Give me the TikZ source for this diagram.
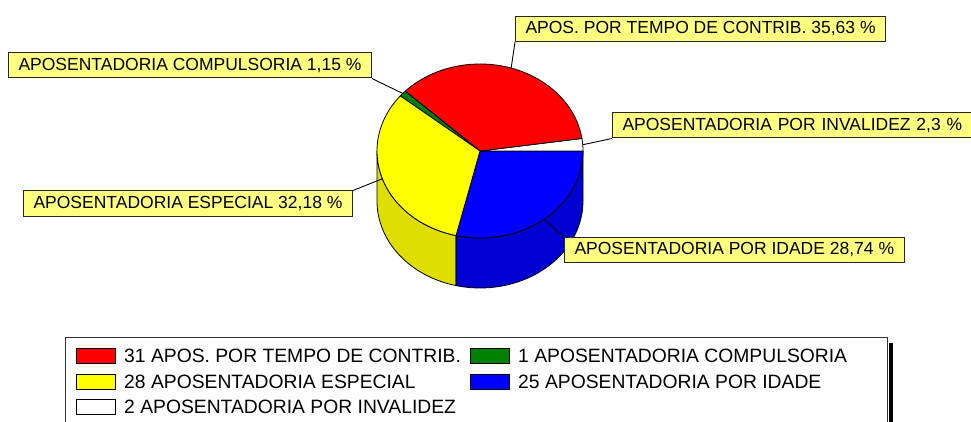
\documentclass[tikz,border=0pt]{standalone}
\usepackage{fontspec}
\setmainfont{Liberation Sans}
\definecolor{lblfill}{RGB}{255,255,128}
\definecolor{yside}{RGB}{222,222,0}
\definecolor{bside}{RGB}{0,0,210}
\definecolor{pgreen}{RGB}{0,128,0}
\definecolor{pyellow}{RGB}{255,255,0}
\definecolor{pblue}{RGB}{0,0,255}
\definecolor{pred}{RGB}{255,0,0}
\begin{document}
\begin{tikzpicture}[x=1pt,y=1pt,
  lbl/.style={draw=black!85, line width=1pt, fill=lblfill, anchor=west, inner xsep=10pt, inner ysep=0pt,
    minimum height=25pt, font=\fontsize{17.5}{20}\selectfont},
  pie/.style={draw=black, line width=0.8pt},
  leader/.style={draw=black, line width=0.9pt},
  sw/.style={draw=black, line width=1.4pt, minimum width=39pt, minimum height=15pt, inner sep=0pt, anchor=north west},
  leg/.style={anchor=base west, inner sep=0pt, font=\fontsize{19.3}{22}\selectfont}]
\useasboundingbox (0,0) rectangle (971,-422);
\clip (0,0) rectangle (971,-422);
\fill[white] (0,0) rectangle (971,-422);

\coordinate (C) at (480,-151);
% sides
\filldraw[pie, fill=yside] (C) ++(180:103pt and 87pt) arc[start angle=180, end angle=256.55, x radius=103pt, y radius=87pt]
  -- ++(0,-50) arc[start angle=256.55, end angle=180, x radius=103pt, y radius=87pt] -- cycle;
\filldraw[pie, fill=bside] (C) ++(256.55:103pt and 87pt) arc[start angle=256.55, end angle=360, x radius=103pt, y radius=87pt]
  -- ++(0,-50) arc[start angle=360, end angle=256.55, x radius=103pt, y radius=87pt] -- cycle;
% top slices
\filldraw[pie, fill=pblue] (C) -- ++(256.55:103pt and 87pt) arc[start angle=256.55, end angle=360, x radius=103pt, y radius=87pt] -- cycle;
\filldraw[pie, fill=white] (C) -- ++(0:103pt and 87pt) arc[start angle=0, end angle=8.28, x radius=103pt, y radius=87pt] -- cycle;
\filldraw[pie, fill=pred] (C) -- ++(8.28:103pt and 87pt) arc[start angle=8.28, end angle=136.55, x radius=103pt, y radius=87pt] -- cycle;
\filldraw[pie, fill=pgreen] (C) -- ++(136.55:103pt and 87pt) arc[start angle=136.55, end angle=140.69, x radius=103pt, y radius=87pt] -- cycle;
\filldraw[pie, fill=pyellow] (C) -- ++(140.69:103pt and 87pt) arc[start angle=140.69, end angle=256.55, x radius=103pt, y radius=87pt] -- cycle;

% mid-angle points
\path (C) ++(4.14:103pt and 87pt) coordinate (mW);
\path (C) ++(72.4:103pt and 87pt) coordinate (mR);
\path (C) ++(138.6:103pt and 87pt) coordinate (mG);
\path (C) ++(198.6:103pt and 87pt) coordinate (mY);
\path (C) ++(308.3:103pt and 87pt) coordinate (mB);

% labels
\node[lbl] (lT) at (515,-29) {APOS. POR TEMPO DE CONTRIB. 35,63 \%};
\node[lbl] (lC) at (8,-65.5) {APOSENTADORIA COMPULSORIA 1,15 \%};
\node[lbl, text width=345pt, align=left] (lI) at (612,-125.5) {APOSENTADORIA POR INVALIDEZ 2,3 \%};
\node[lbl] (lE) at (23,-203.5) {APOSENTADORIA ESPECIAL 32,18 \%};
\node[lbl] (lD) at (564,-250) {APOSENTADORIA POR IDADE 28,74 \%};

\draw[leader] (lT.south west) -- (mR);
\draw[leader] (lC.south east) -- (mG);
\draw[leader] (lI.south west) -- (mW);
\draw[leader] (lE.north east) -- (mY);
\draw[leader] (lD.north west) -- (mB);

% legend
\draw[line width=0.8pt, black!80] (65,-430) -- (65,-337.5) -- (887,-337.5) -- (887,-430);
\fill[black] (888.5,-343) rectangle (893,-430);

\node[sw, fill=pred] (s1) at (75.5,-347.5) {};
\node[sw, fill=pgreen] (s2) at (469.5,-347.5) {};
\node[sw, fill=pyellow] (s3) at (75.5,-373.5) {};
\node[sw, fill=pblue] (s4) at (469.5,-373.5) {};
\node[sw, fill=white] (s5) at (75.5,-399) {};

\node[leg] (t1) at (124,-362) {31 APOS. POR TEMPO DE CONTRIB.};
\node[leg] (t2) at (518,-362) {1 APOSENTADORIA COMPULSORIA};
\node[leg] (t3) at (124,-388) {28 APOSENTADORIA ESPECIAL};
\node[leg] (t4) at (518,-388) {25 APOSENTADORIA POR IDADE};
\node[leg] (t5) at (124,-413.5) {2 APOSENTADORIA POR INVALIDEZ};
\end{tikzpicture}
\end{document}
